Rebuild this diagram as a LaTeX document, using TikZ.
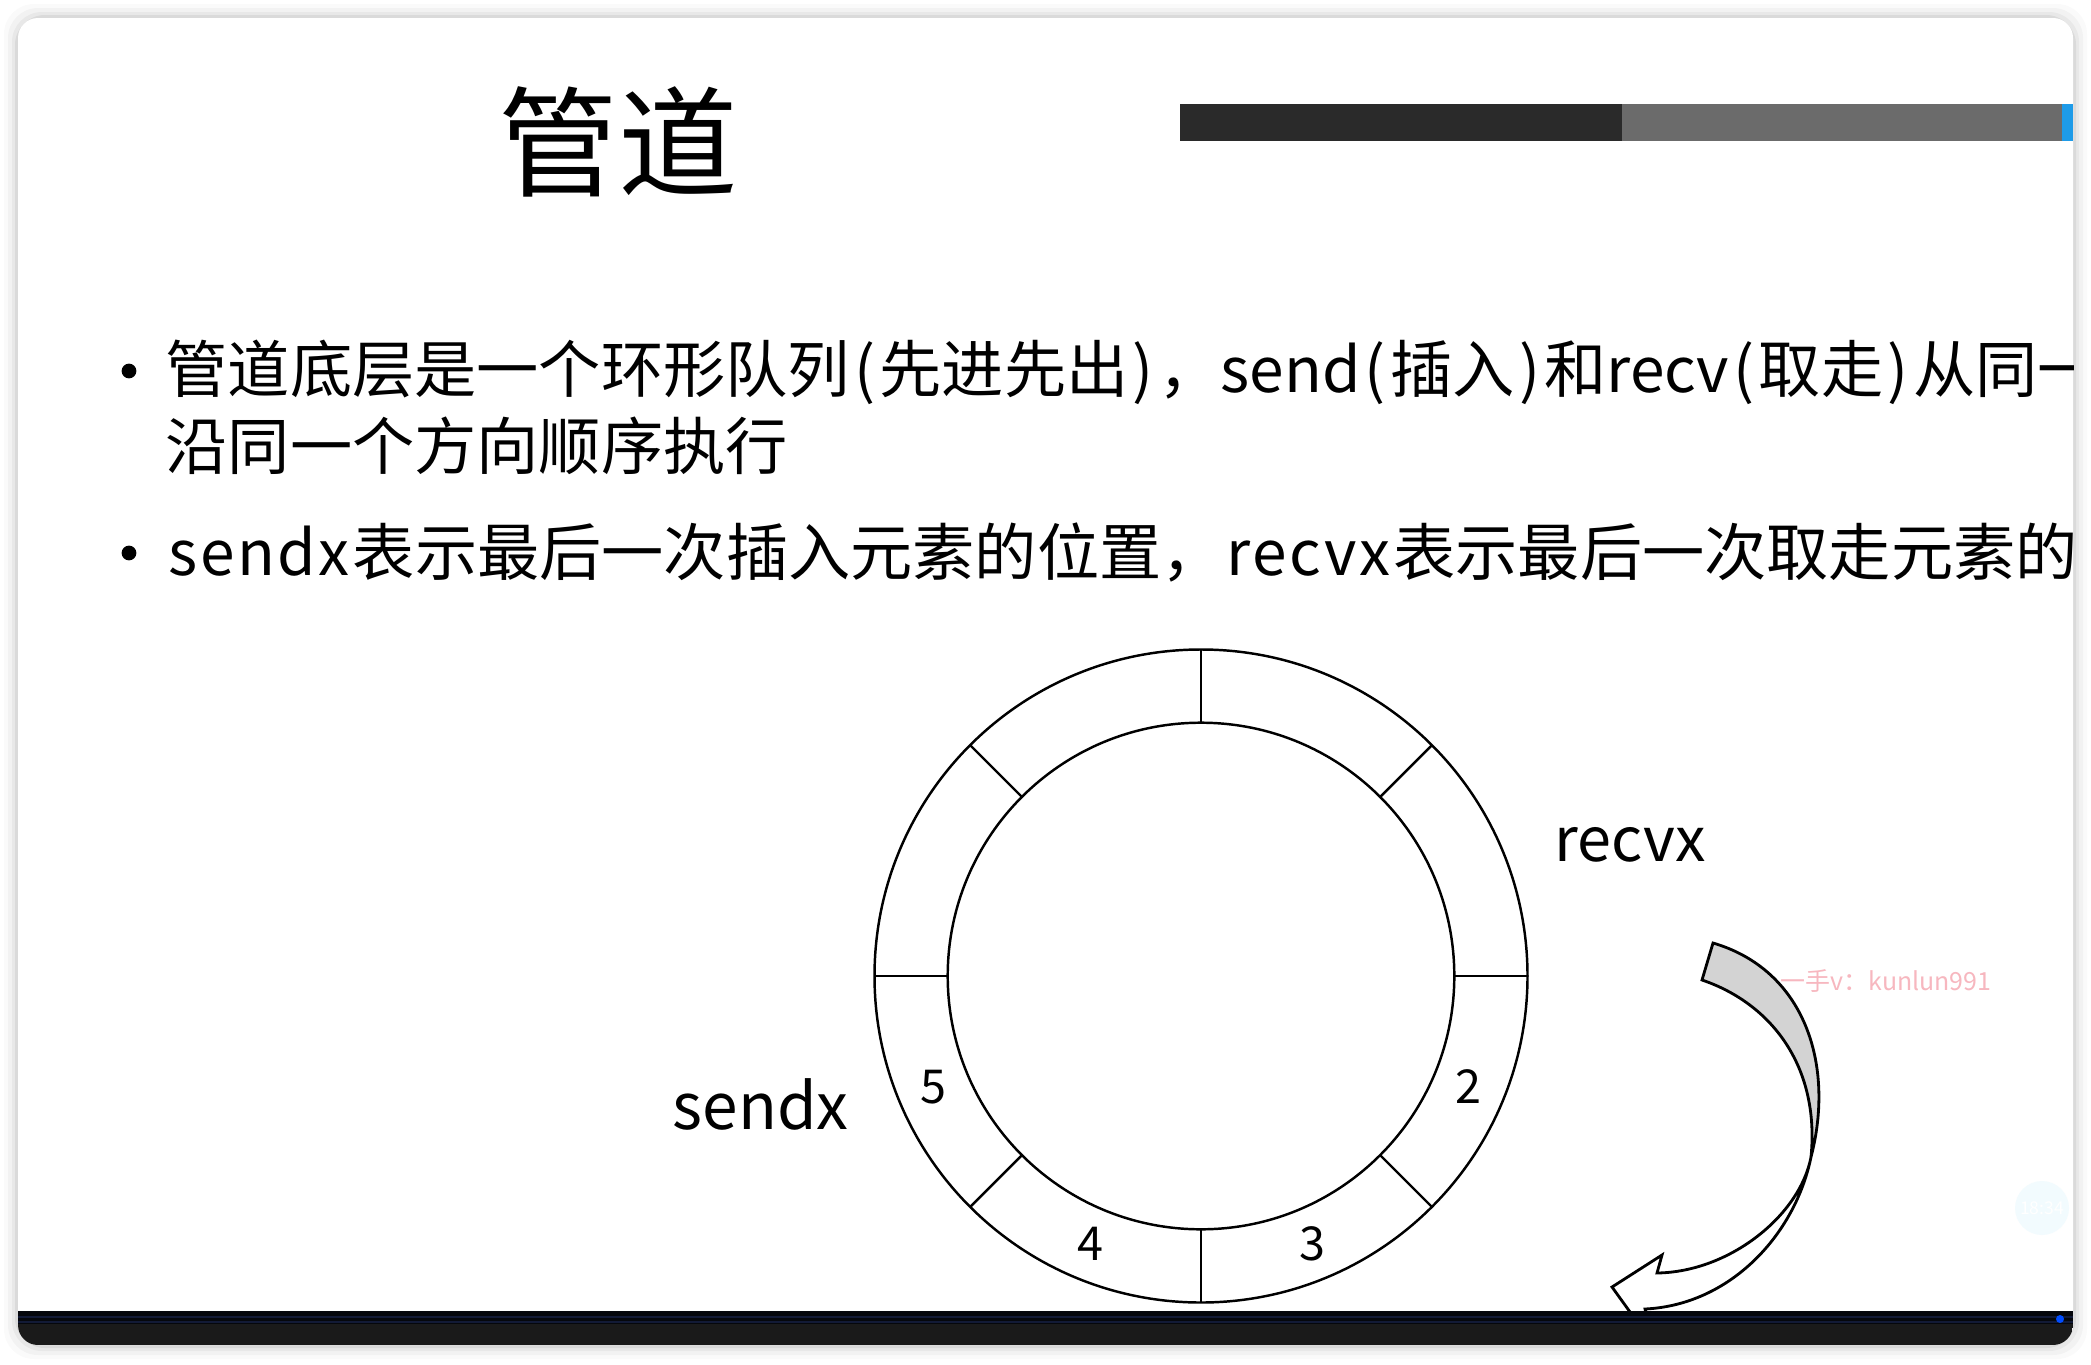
\documentclass[tikz,border=0pt]{standalone}
\usepackage{fontspec}
\setmainfont{Noto Sans CJK SC}
\usetikzlibrary{calc}
\definecolor{barDark}{HTML}{2A2A2A}
\definecolor{barGrey}{HTML}{6B6B6B}
\definecolor{barBlue}{HTML}{1E9BE8}
\definecolor{arrowGrey}{HTML}{D3D3D3}
\definecolor{markPink}{HTML}{F7B7BF}
\definecolor{footBlack}{HTML}{05070C}
\definecolor{footGrey}{HTML}{1A1A1A}
\definecolor{footLine}{HTML}{121A36}
\tikzset{
  txt/.style={inner sep=0pt, anchor=base west, font=\fontsize{17.7pt}{20pt}\selectfont},
  titletxt/.style={inner sep=0pt, anchor=base west, font=\fontsize{34pt}{40pt}\selectfont},
  tag/.style={inner sep=0pt, anchor=base west, font=\fontsize{17.4pt}{20pt}\selectfont},
  num/.style={inner sep=0pt, font=\fontsize{13.3pt}{15pt}\selectfont},
  dot/.style={circle, fill=black, inner sep=0pt, minimum size=4.2pt},
  ringline/.style={draw=black, line width=0.7pt},
  arrowline/.style={draw=black, line width=0.8pt, line join=miter}
}
\newcommand{\lp}{\kern0.07em(\kern0.07em}
\newcommand{\rp}{\kern0.07em)\kern0.07em}
\newcommand{\lat}[1]{\kern0.05em{\addfontfeatures{LetterSpace=4}#1}\kern0.05em}

\begin{document}
\begin{tikzpicture}[x=0.1mm, y=-0.1mm]
\useasboundingbox (0,0) rectangle (2091,1364);
\fill[white] (0,0) rectangle (2091,1364);

% window shadow
\foreach \s/\o in {14/0.02, 10/0.03, 6/0.04, 3/0.06}
  \fill[black, opacity=\o, rounded corners=3mm] (18-\s,18-\s) rectangle (2073+\s,1345+\s);
\fill[white, rounded corners=2mm] (18,18) rectangle (2073,1345);

\begin{scope}
\clip[rounded corners=2mm] (18,18) rectangle (2073,1345);

% title and header bar
\node[titletxt] (title) at (498,187) {管道};
\fill[barDark] (1180,104) rectangle (1622,141);
\fill[barGrey] (1622,104) rectangle (2062,141);
\fill[barBlue] (2062,104) rectangle (2073,141);

% bullets
\node[dot] (dot1) at (129,371) {};
\node[txt] (line1) at (165,392) {管道底层是一个环形队列\lp 先进先出\rp ，send\lp 插入\rp 和recv\lp 取走\rp 从同一};
\node[txt] (line2) at (165,469) {沿同一个方向顺序执行};
\node[dot] (dot2) at (129,553) {};
\node[txt] (line3) at (165,575) {\lat{sendx}表示最后一次插入元素的位置，\lat{recvx}表示最后一次取走元素的};

% ring buffer
\coordinate (ring) at (1201,976);
\draw[ringline] (ring) circle[radius=326.5];
\draw[ringline] (ring) circle[radius=253.3];
\foreach \a in {0,45,...,315}
  \draw[ringline] ($(ring)+(\a:253.3)$) -- ($(ring)+(\a:326.5)$);
\foreach \n/\a in {2/22.5, 3/67.5, 4/112.5, 5/157.5}
  \node[num] (slot\n) at ($(ring)+(\a:290)$) {\n};

\node[tag] (recvx) at (1554,861) {recvx};
\node[tag, font=\fontsize{18.2pt}{21pt}\selectfont] (sendx) at (672,1129) {sendx};

% curved arrow
\coordinate (tailA) at (1713,943);
\coordinate (tailB) at (1702,980);
\coordinate (cross) at (1811,1157);
\filldraw[arrowline, fill=arrowGrey] (tailA) .. controls (1805,970) and (1835,1065) .. (cross)
  .. controls (1820,1065) and (1770,1003) .. (tailB) -- cycle;
\filldraw[arrowline, fill=white] (cross) .. controls (1795,1235) and (1730,1305) .. (1645,1309)
  -- (1650,1330) -- (1643,1330) -- (1612,1287) -- (1662,1255) -- (1657,1273)
  .. controls (1730,1272) and (1800,1215) .. (cross);

\node[inner sep=0pt, anchor=base west, text=markPink, font=\fontsize{7.1pt}{8pt}\selectfont] (mark) at (1780,990) {一手v：kunlun991};

% clock bubble
\fill[cyan!5] (2042,1208) circle[radius=27];
\node[inner sep=0pt, text=white, font=\fontsize{5pt}{6pt}\selectfont] (clock) at (2042,1208) {18:34};

% bottom bar
\fill[footGrey] (18,1311) rectangle (2073,1345);
\fill[footBlack] (18,1311) rectangle (2073,1324);
\draw[footLine, line width=0.4pt] (18,1317) -- (2073,1317);
\draw[footLine, line width=0.4pt] (18,1322) -- (2073,1322);
\fill[blue!70!cyan] (2060,1319) circle[radius=4];
\end{scope}
\end{tikzpicture}
\end{document}
